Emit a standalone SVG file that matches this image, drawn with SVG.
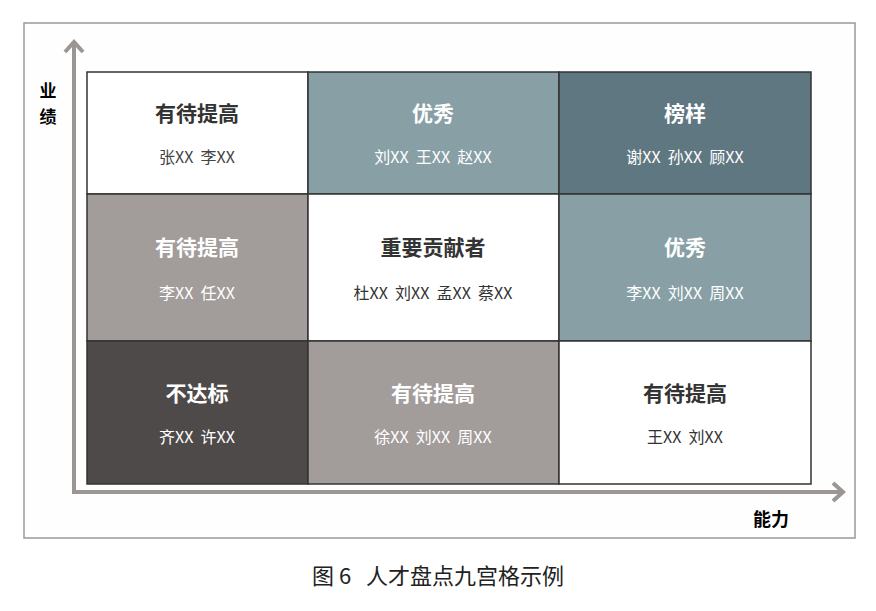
<svg xmlns="http://www.w3.org/2000/svg" width="876" height="611" viewBox="0 0 876 611">
<style>
text{font-family:"Noto Sans CJK SC","Noto Sans",sans-serif;text-anchor:middle;white-space:pre}
.t{font-size:21px;font-weight:bold}
.n{font-size:16px}
.cell{stroke:#333;stroke-width:1.5}
.ax{stroke:#9b9694;stroke-width:4;fill:none}
</style>
<rect width="876" height="611" fill="#fff"/>
<rect x="24" y="23" width="831" height="515" fill="#fefefe" stroke="#999" stroke-width="1.5"/>
<g id="connectors">
<line class="ax" x1="74" y1="44" x2="74" y2="493"/>
<polyline class="ax" points="65,52 74,42 83,52"/>
<line class="ax" x1="72" y1="492" x2="842" y2="492"/>
<polyline class="ax" points="833,483 843,492 833,501"/>
</g>
<text x="48" y="97" font-size="17" font-weight="bold">业</text>
<text x="48" y="123" font-size="17" font-weight="bold">绩</text>
<text x="771" y="526" font-size="18" font-weight="bold">能力</text>
<g id="c1"><rect class="cell" x="87" y="72" width="221" height="122" fill="#fff"/><text x="197" y="121" class="t" fill="#333">有待提高</text><text x="197" y="163" class="n" fill="#444">张XX  李XX</text></g>
<g id="c2"><rect class="cell" x="308" y="72" width="251" height="122" fill="#879fa5"/><text x="433" y="121" class="t" fill="#fff">优秀</text><text x="433" y="163" class="n" fill="#fff">刘XX  王XX  赵XX</text></g>
<g id="c3"><rect class="cell" x="559" y="72" width="252" height="122" fill="#5f7780"/><text x="685" y="121" class="t" fill="#fff">榜样</text><text x="685" y="163" class="n" fill="#fff">谢XX  孙XX  顾XX</text></g>
<g id="c4"><rect class="cell" x="87" y="194" width="221" height="147" fill="#a29c9b"/><text x="197" y="255" class="t" fill="#fff">有待提高</text><text x="197" y="299" class="n" fill="#fff">李XX  任XX</text></g>
<g id="c5"><rect class="cell" x="308" y="194" width="251" height="147" fill="#fff"/><text x="433" y="255" class="t" fill="#333">重要贡献者</text><text x="433" y="299" class="n" fill="#333">杜XX  刘XX  孟XX  蔡XX</text></g>
<g id="c6"><rect class="cell" x="559" y="194" width="252" height="147" fill="#879fa5"/><text x="685" y="255" class="t" fill="#fff">优秀</text><text x="685" y="299" class="n" fill="#fff">李XX  刘XX  周XX</text></g>
<g id="c7"><rect class="cell" x="87" y="341" width="221" height="143" fill="#4f4a4a"/><text x="197" y="401" class="t" fill="#fff">不达标</text><text x="197" y="443" class="n" fill="#fff">齐XX  许XX</text></g>
<g id="c8"><rect class="cell" x="308" y="341" width="251" height="143" fill="#a29c9b"/><text x="433" y="401" class="t" fill="#fff">有待提高</text><text x="433" y="443" class="n" fill="#fff">徐XX  刘XX  周XX</text></g>
<g id="c9"><rect class="cell" x="559" y="341" width="252" height="143" fill="#fff"/><text x="685" y="401" class="t" fill="#333">有待提高</text><text x="685" y="443" class="n" fill="#333">王XX  刘XX</text></g>
<text x="438" y="584" font-size="22" fill="#222">图 6   人才盘点九宫格示例</text>
</svg>
